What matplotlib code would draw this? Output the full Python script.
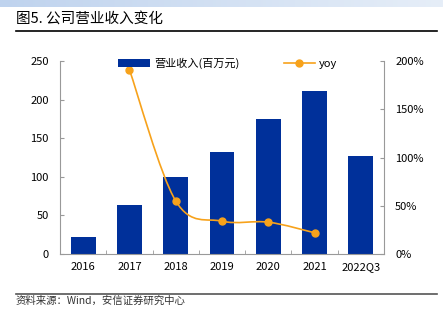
import numpy as np
import matplotlib
matplotlib.use('Agg')
import matplotlib.pyplot as plt
from matplotlib.ticker import FuncFormatter
from matplotlib.path import Path
from matplotlib.patches import PathPatch

plt.rcParams['font.family'] = ['Noto Sans CJK SC', 'DejaVu Sans']

years = ['2016', '2017', '2018', '2019', '2020', '2021', '2022Q3']
revenue = [22, 63, 100, 132, 175, 211, 127]
yoy = [None, 1.91, 0.55, 0.34, 0.33, 0.22]

bar_color = '#00309A'
line_color = '#F7A21B'
grey = '#999999'

fig = plt.figure(figsize=(4.43, 3.23), dpi=100)

# top gradient band
band = fig.add_axes([0, 1 - 7 / 323, 1, 7 / 323])
grad = np.linspace(0, 1, 256).reshape(1, -1)
band.imshow(grad, aspect='auto', cmap=matplotlib.colors.LinearSegmentedColormap.from_list(
    'b', ['#BFD3EE', '#E6EEF8']), extent=[0, 1, 0, 1])
band.axis('off')

fig.text(16 / 443, 1 - 19 / 323, '图5. 公司营业收入变化', fontsize=10.5, va='center', ha='left')
fig.add_artist(plt.Line2D([16 / 443, 437 / 443], [1 - 31 / 323, 1 - 31 / 323], color='black', lw=1.2))
fig.add_artist(plt.Line2D([16 / 443, 437 / 443], [1 - 294 / 323, 1 - 294 / 323], color='#555555', lw=1.2))
fig.text(16 / 443, 1 - 301 / 323, '资料来源：Wind，安信证券研究中心', fontsize=7.5, va='center', ha='left',
         style='italic', color='#333333')

ax = fig.add_axes([60 / 443, 1 - 254 / 323, 324 / 443, 193 / 323])
x = np.arange(len(years))
ax.bar(x, revenue, width=0.54, color=bar_color, label='营业收入(百万元)', zorder=2)
ax.set_xlim(-0.5, len(years) - 0.5)
ax.set_ylim(0, 250)
ax.set_yticks([0, 50, 100, 150, 200, 250])
ax.set_xticks(x)
ax.set_xticklabels(years)
ax.set_xticks(np.arange(-0.5, len(years) + 0.5, 1), minor=True)
ax.tick_params(axis='x', which='major', length=0, labelsize=8, pad=6)
ax.tick_params(axis='x', which='minor', length=3, direction='in', color=grey)
ax.tick_params(axis='y', length=3, direction='in', color=grey, labelsize=8, pad=8)
for s in ['top', 'right']:
    ax.spines[s].set_visible(False)
for s in ['left', 'bottom']:
    ax.spines[s].set_color(grey)

ax2 = ax.twinx()
yx = [i for i, v in enumerate(yoy) if v is not None]
yv = [v for v in yoy if v is not None]
ax2.set_ylim(0, 2.0)

# smoothed line (bezier through the points, like excel's smooth line)
pts = np.array(list(zip(yx, yv)), dtype=float)
verts = [pts[0]]
codes = [Path.MOVETO]
for i in range(len(pts) - 1):
    p0 = pts[i - 1] if i > 0 else pts[i]
    p1, p2 = pts[i], pts[i + 1]
    p3 = pts[i + 2] if i + 2 < len(pts) else pts[i + 1]
    c1 = p1 + (p2 - p0) / 6
    c2 = p2 - (p3 - p1) / 6
    verts += [c1, c2, p2]
    codes += [Path.CURVE4] * 3
ax2.add_patch(PathPatch(Path(verts, codes), fill=False, edgecolor=line_color, lw=1.2, zorder=3))
ax2.plot(yx, yv, color=line_color, lw=1.2, marker='o', markersize=5, linestyle='none', zorder=4)
ax2.plot([], [], color=line_color, lw=1.2, marker='o', markersize=5, label='yoy')

ax2.set_yticks([0, 0.5, 1.0, 1.5, 2.0])
ax2.yaxis.set_major_formatter(FuncFormatter(lambda v, p: f'{v * 100:.0f}%'))
ax2.tick_params(axis='y', length=3, direction='in', color=grey, labelsize=8, pad=8)
for s in ['top', 'left', 'bottom']:
    ax2.spines[s].set_visible(False)
ax2.spines['right'].set_color(grey)

h1, l1 = ax.get_legend_handles_labels()
h2, l2 = ax2.get_legend_handles_labels()
fig.legend(h1 + h2, l1 + l2, ncol=2, frameon=False, fontsize=8,
           loc='center', bbox_to_anchor=(228 / 443, 1 - 63 / 323),
           columnspacing=4, handlelength=2.8, handletextpad=0.4)

fig.savefig('out.png', dpi=100)
